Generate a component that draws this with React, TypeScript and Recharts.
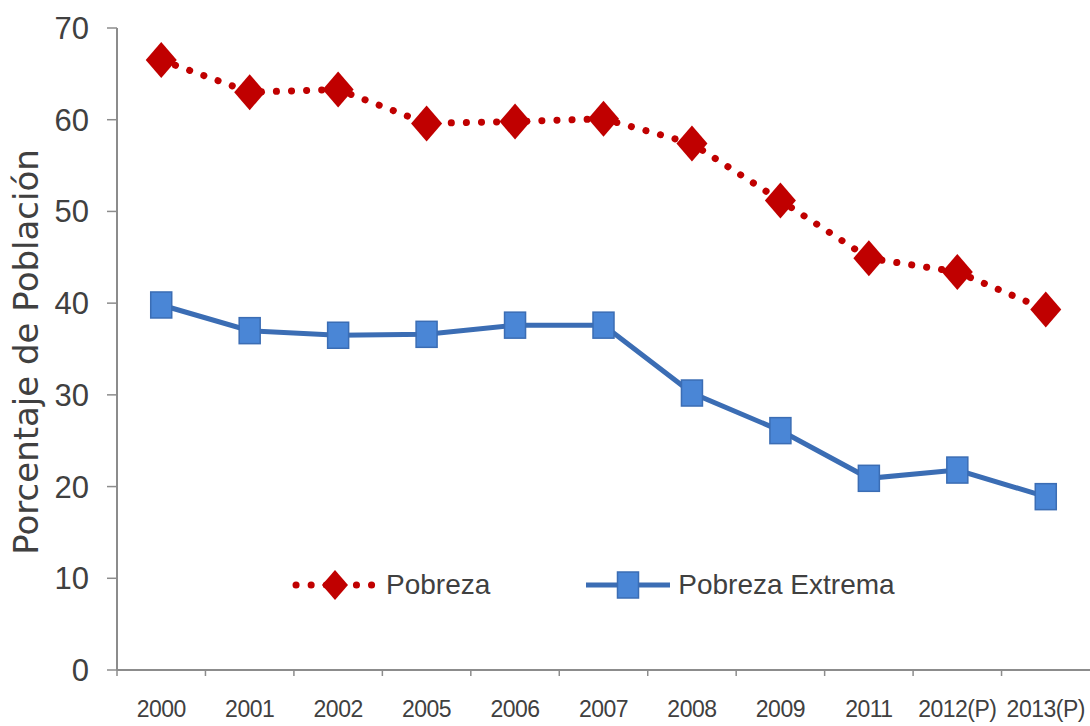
import React from 'react';
import { LineChart, Line, XAxis, YAxis, Legend } from 'recharts';

const years = ['2000', '2001', '2002', '2005', '2006', '2007', '2008', '2009', '2011', '2012(P)', '2013(P)'];
const pobreza = [66.5, 63.0, 63.3, 59.6, 59.8, 60.1, 57.4, 51.2, 44.9, 43.4, 39.3];
const pobrezaExtrema = [39.8, 37.0, 36.5, 36.6, 37.6, 37.6, 30.2, 26.1, 20.9, 21.8, 18.9];
const yTicks = [0, 10, 20, 30, 40, 50, 60, 70];

const data = years.map((year, i) => ({
  year,
  pobreza: pobreza[i],
  extrema: pobrezaExtrema[i],
}));

const RED = '#c00000';
const BLUE_LINE = '#3b6db4';
const BLUE_FILL = '#4a86d6';
const AXIS = '#8c8c8c';
const TEXT = '#404040';
const FONT = "'Liberation Sans', Arial, sans-serif";

const CHART_W = 1090;
const CHART_H = 726;
const AXIS_W = 117;
const STEP = (CHART_W - AXIS_W) / years.length;

const Diamond = (props: any) => {
  const { cx, cy, index } = props;
  if (cx == null || cy == null) return null;
  return (
    <path
      key={`d-${index}`}
      d={`M${cx},${cy - 18} L${cx + 15.5},${cy} L${cx},${cy + 18} L${cx - 15.5},${cy} Z`}
      fill={RED}
    />
  );
};

const Square = (props: any) => {
  const { cx, cy, index } = props;
  if (cx == null || cy == null) return null;
  return (
    <rect
      key={`s-${index}`}
      x={cx - 10.5}
      y={cy - 13}
      width={21}
      height={26}
      fill={BLUE_FILL}
      stroke={BLUE_LINE}
      strokeWidth={1.5}
    />
  );
};

const XTick = (props: any) => {
  const { x, y, payload } = props;
  return (
    <g>
      <line x1={x - STEP / 2} y1={y - 8} x2={x - STEP / 2} y2={y - 2} stroke={AXIS} strokeWidth={1.5} />
      <text x={x} y={y + 39} textAnchor="middle" fill={TEXT} fontSize={23} letterSpacing={-0.5} fontFamily={FONT}>
        {payload.value}
      </text>
    </g>
  );
};

const YLabel = () => (
  <text
    x={26}
    y={352}
    transform="rotate(-90 26 352)"
    textAnchor="middle"
    dominantBaseline="central"
    fill={TEXT}
    style={{ fontSize: 34, fontFamily: "'DejaVu Sans', 'Open Sans', sans-serif", fontWeight: 500 }}
  >
    Porcentaje de Población
  </text>
);

const LegendBox = () => (
  <div style={{ display: 'flex', alignItems: 'center', fontFamily: FONT, fontSize: 28, color: TEXT }}>
    <svg width={86} height={40}>
      <line x1={4} y1={20} x2={84} y2={20} stroke={RED} strokeWidth={7} strokeDasharray="0.1 15" strokeLinecap="round" />
      <path d="M43,5 L56,20 L43,35 L30,20 Z" fill={RED} />
    </svg>
    <span style={{ marginLeft: 8 }}>Pobreza</span>
    <svg width={88} height={40} style={{ marginLeft: 94 }}>
      <line x1={2} y1={20} x2={86} y2={20} stroke={BLUE_LINE} strokeWidth={5} />
      <rect x={33.5} y={7} width={21} height={26} fill={BLUE_FILL} stroke={BLUE_LINE} strokeWidth={1.5} />
    </svg>
    <span style={{ marginLeft: 6 }}>Pobreza Extrema</span>
  </div>
);

export default function App() {
  return (
    <div style={{ position: 'absolute', left: 0, top: 0, width: 1090, height: 726, overflow: 'hidden', background: '#fff' }}>
      <LineChart width={CHART_W} height={CHART_H} data={data} margin={{ top: 28, right: 0, left: 0, bottom: 0 }}>
        <XAxis
          dataKey="year"
          height={56}
          padding={{ left: STEP / 2, right: STEP / 2 }}
          axisLine={{ stroke: AXIS, strokeWidth: 2 }}
          tickLine={false}
          tick={<XTick />}
          interval={0}
        />
        <YAxis
          width={AXIS_W}
          domain={[0, 70]}
          ticks={yTicks}
          axisLine={{ stroke: AXIS, strokeWidth: 2 }}
          tickLine={{ stroke: AXIS, strokeWidth: 1.5 }}
          tickSize={10}
          tickMargin={18}
          tick={{ fill: TEXT, fontSize: 31, fontFamily: FONT }}
          label={<YLabel />}
        />
        <Legend
          layout="horizontal"
          verticalAlign="middle"
          align="center"
          content={<LegendBox />}
          wrapperStyle={{ top: 565, left: 292, width: 'auto' }}
        />
        <Line
          type="linear"
          dataKey="pobreza"
          name="Pobreza"
          stroke={RED}
          strokeWidth={7}
          strokeDasharray="0.1 15"
          strokeLinecap="round"
          dot={<Diamond />}
          isAnimationActive={false}
        />
        <Line
          type="linear"
          dataKey="extrema"
          name="Pobreza Extrema"
          stroke={BLUE_LINE}
          strokeWidth={5}
          dot={<Square />}
          isAnimationActive={false}
        />
      </LineChart>
    </div>
  );
}
